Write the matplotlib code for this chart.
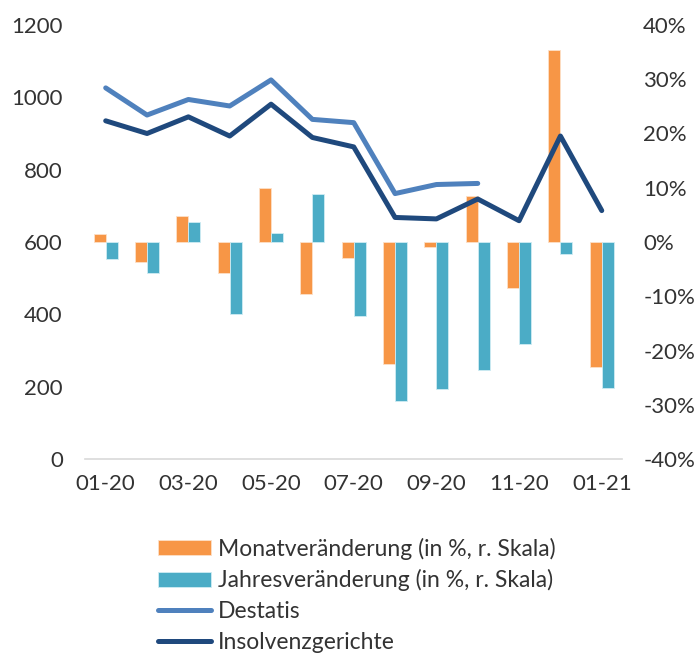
import matplotlib
matplotlib.use('Agg')
import matplotlib.pyplot as plt
import numpy as np

plt.rcParams['font.family'] = ['Lato', 'DejaVu Sans']

# Monate
months = ['01-20', '02-20', '03-20', '04-20', '05-20', '06-20', '07-20',
          '08-20', '09-20', '10-20', '11-20', '12-20', '01-21']
# Veränderungen in % (rechte Skala)
monat_pct = [1.4, -3.7, 4.8, -5.7, 10.0, -9.6, -2.9, -22.5, -1.0, 8.5, -8.5, 35.3, -23.1]
jahres_pct = [-3.2, -5.7, 3.7, -13.2, 1.7, 8.9, -13.6, -29.2, -27.0, -23.5, -18.7, -2.2, -26.9]
# Anzahl Insolvenzen (linke Skala)
destatis = [1026, 951, 994, 976, 1048, 939, 930, 734, 759, 762]
gerichte = [935, 900, 946, 893, 981, 889, 863, 668, 664, 719, 659, 893, 687]

c_orange = '#F79646'
c_teal = '#4BACC6'
c_light = '#4F81BD'
c_dark = '#1F497D'
c_text = '#333333'

fig = plt.figure(figsize=(6.97, 6.56), dpi=100)
ax = fig.add_axes([0.122, 0.30, 0.771, 0.662])
ax2 = ax.twinx()

x = np.arange(len(months))
w = 0.29
ax2.bar(x - w / 2, monat_pct, w, color=c_orange, edgecolor='#fde0c8', linewidth=0.6,
        label='Monatveränderung (in %, r. Skala)')
ax2.bar(x + w / 2, jahres_pct, w, color=c_teal, edgecolor='#d0ecf3', linewidth=0.6,
        label='Jahresveränderung (in %, r. Skala)')
ax2.set_ylim(-40, 40)
ax2.set_yticks(np.arange(-40, 41, 10))
ax2.set_yticklabels([f'{v}%' for v in range(-40, 41, 10)])

# Linien über den Balken zeichnen
ax.set_zorder(ax2.get_zorder() + 1)
ax.patch.set_visible(False)
ax.plot(x[:len(destatis)], destatis, color=c_light, lw=3.6, solid_capstyle='round',
        label='Destatis')
ax.plot(x, gerichte, color=c_dark, lw=3.6, solid_capstyle='round',
        label='Insolvenzgerichte')
ax.set_ylim(0, 1200)
ax.set_yticks(range(0, 1201, 200))
ax.set_xlim(-0.5, len(months) - 0.5)
ax.set_xticks(x[::2])
ax.set_xticklabels(months[::2])

for a in (ax, ax2):
    for s in a.spines.values():
        s.set_visible(False)
    a.tick_params(length=0, labelsize=16, colors=c_text)
ax.spines['bottom'].set_visible(True)
ax.spines['bottom'].set_color('#d9d9d9')
ax.spines['bottom'].set_linewidth(1.2)
ax.tick_params(axis='x', pad=11)
ax.tick_params(axis='y', pad=16)
ax2.tick_params(axis='y', pad=15)

h1, l1 = ax2.get_legend_handles_labels()
h2, l2 = ax.get_legend_handles_labels()
fig.legend(h1 + h2, l1 + l2, loc='upper left', bbox_to_anchor=(0.197, 0.212),
           frameon=False, fontsize=16.5, handlelength=2.3, handleheight=0.6,
           handletextpad=0.3, labelspacing=0.42, labelcolor=c_text)

fig.savefig('out.png', dpi=100)
